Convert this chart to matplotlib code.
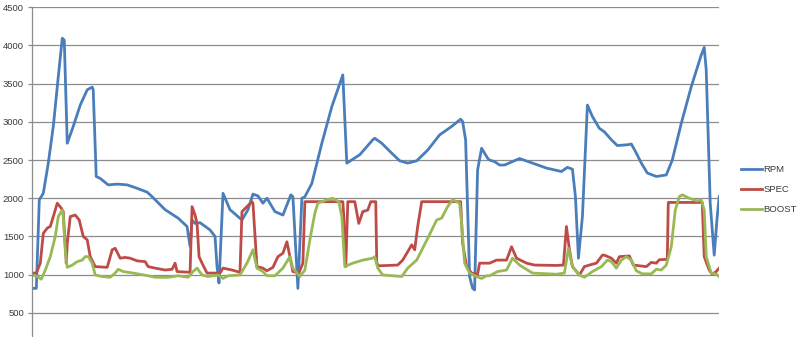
import matplotlib
matplotlib.use("Agg")
import matplotlib.pyplot as plt

plt.rcParams['font.family'] = ['Liberation Sans', 'DejaVu Sans']

# --- ДАННЫЕ: пары (отсчёт времени, значение) ---
rpm = [(0, 820), (4, 820), (7, 1980), (11, 2065), (16, 2460), (21, 2940), (26, 3590),
       (30, 4095), (32, 4070), (35, 2720), (41, 2940), (48, 3220), (55, 3420), (60, 3455),
       (61, 3420), (64, 2285), (68, 2260), (76, 2175), (85, 2185), (95, 2175), (105, 2130),
       (115, 2080), (120, 2020), (133, 1850), (146, 1740), (155, 1630), (158, 1370),
       (160, 1715), (163, 1670), (168, 1680), (178, 1585), (183, 1500), (185, 1105),
       (187, 890), (191, 2065), (198, 1850), (210, 1715), (216, 1850), (221, 2055),
       (226, 2030), (231, 1935), (235, 2000), (243, 1825), (251, 1780), (259, 2045),
       (261, 2020), (266, 820), (270, 2000), (273, 2020), (280, 2195), (290, 2720),
       (300, 3200), (311, 3615), (315, 2460), (328, 2570), (341, 2765), (343, 2785),
       (350, 2720), (360, 2590), (368, 2490), (376, 2460), (385, 2490), (396, 2630),
       (408, 2830), (420, 2940), (429, 3035), (431, 3005), (434, 2765), (438, 975),
       (441, 820), (443, 800), (446, 2370), (450, 2655), (456, 2525), (458, 2500),
       (463, 2480), (468, 2435), (473, 2435), (488, 2520), (501, 2460), (515, 2395),
       (530, 2350), (536, 2405), (541, 2380), (544, 2020), (547, 1215), (551, 1760),
       (556, 3220), (561, 3070), (568, 2915), (573, 2870), (580, 2765), (586, 2690),
       (596, 2700), (600, 2710), (605, 2590), (610, 2460), (616, 2330), (625, 2285),
       (635, 2305), (641, 2500), (650, 2980), (660, 3460), (670, 3875), (673, 3975),
       (675, 3680), (679, 1935), (683, 1255), (686, 1760), (688, 2020)]

spec = [(0, 1020), (4, 1020), (8, 1150), (11, 1540), (15, 1610), (18, 1630), (21, 1760),
        (25, 1935), (29, 1870), (31, 1825), (32, 1585), (34, 1150), (35, 1410), (38, 1760),
        (43, 1780), (47, 1715), (51, 1500), (55, 1455), (58, 1235), (63, 1105), (75, 1095),
        (80, 1325), (83, 1345), (88, 1215), (93, 1225), (98, 1215), (105, 1180), (113, 1170),
        (116, 1105), (123, 1085), (133, 1060), (140, 1070), (143, 1150), (145, 1040),
        (158, 1030), (160, 1890), (163, 1780), (165, 1670), (167, 1235), (170, 1150),
        (175, 1020), (188, 1020), (191, 1085), (200, 1060), (208, 1030), (210, 1825),
        (215, 1890), (220, 1955), (221, 1935), (225, 1105), (231, 1085), (235, 1050),
        (241, 1095), (246, 1235), (251, 1280), (255, 1430), (258, 1235), (261, 1040),
        (267, 1020), (271, 1150), (273, 1955), (311, 1955), (312, 1760), (314, 1105),
        (316, 1955), (323, 1955), (327, 1670), (331, 1825), (336, 1845), (339, 1955),
        (344, 1955), (345, 1150), (347, 1115), (366, 1125), (371, 1190), (376, 1300),
        (380, 1390), (383, 1325), (386, 1630), (390, 1955), (429, 1955), (431, 1410),
        (435, 1105), (440, 1020), (446, 1005), (448, 1150), (458, 1150), (465, 1190),
        (475, 1190), (480, 1365), (485, 1215), (495, 1150), (503, 1125), (525, 1120),
        (532, 1125), (535, 1630), (538, 1325), (541, 1105), (548, 995), (553, 1105),
        (558, 1125), (565, 1150), (571, 1255), (573, 1255), (580, 1215), (585, 1150),
        (588, 1235), (598, 1245), (602, 1125), (615, 1105), (620, 1160), (625, 1150),
        (628, 1195), (636, 1200), (637, 1945), (671, 1945), (673, 1235), (678, 1060),
        (681, 1005), (685, 1040), (688, 1085)]

boost = [(0, 995), (5, 975), (9, 940), (13, 1060), (18, 1235), (23, 1500), (26, 1760),
         (30, 1845), (31, 1760), (33, 1325), (35, 1095), (40, 1125), (45, 1170), (50, 1190),
         (53, 1235), (56, 1235), (60, 1150), (63, 995), (70, 975), (78, 965), (83, 1020),
         (86, 1070), (91, 1040), (101, 1020), (116, 985), (123, 965), (136, 965), (146, 985),
         (156, 965), (161, 1040), (165, 1085), (170, 995), (176, 975), (186, 995), (191, 950),
         (196, 985), (208, 995), (215, 1150), (221, 1325), (225, 1085), (231, 1040),
         (235, 985), (243, 985), (251, 1085), (258, 1235), (261, 1085), (268, 975),
         (273, 1060), (278, 1455), (283, 1805), (286, 1935), (295, 1980), (301, 2000),
         (307, 1955), (310, 1760), (313, 1105), (321, 1150), (331, 1190), (341, 1215),
         (343, 1235), (346, 1085), (351, 995), (370, 975), (376, 1085), (385, 1190),
         (396, 1475), (405, 1715), (410, 1740), (416, 1890), (421, 1980), (428, 1935),
         (430, 1670), (433, 1150), (438, 1020), (445, 975), (450, 950), (455, 985),
         (458, 985), (466, 1040), (475, 1060), (481, 1215), (488, 1125), (501, 1020),
         (525, 1005), (533, 1020), (537, 1345), (541, 1105), (548, 995), (553, 965),
         (561, 1040), (570, 1105), (576, 1190), (580, 1170), (585, 1085), (590, 1190),
         (595, 1235), (600, 1190), (605, 1050), (611, 1010), (620, 1010), (625, 1070),
         (630, 1060), (635, 1125), (640, 1365), (644, 1845), (648, 2020), (651, 2045),
         (658, 2000), (666, 1965), (670, 1980), (673, 1845), (675, 1235), (680, 1020),
         (685, 1005), (688, 975)]

series_names = ["RPM", "SPEC", "BOOST"]
y_ticks = [500, 1000, 1500, 2000, 2500, 3000, 3500, 4000, 4500]


def draw_chart():
    """Построение графика в стиле Excel."""
    fig = plt.figure(figsize=(8, 3.37), dpi=100)
    ax = fig.add_axes([0.0404, -0.0415, 0.8586, 1.0198])

    colors = ["#4A7EBB", "#BE4B48", "#98B954"]
    for pts, name, c in zip([rpm, spec, boost], series_names, colors):
        t, v = zip(*pts)
        ax.plot(t, v, color=c, linewidth=2.0, label=name, solid_joinstyle='round')

    ax.set_xlim(0, 688)
    ax.set_ylim(0, 4500)
    ax.set_yticks(y_ticks)
    ax.set_yticklabels([str(v) for v in y_ticks])
    ax.set_xticks([])
    ax.yaxis.grid(True, color='#8C8C8C', linewidth=0.9)
    ax.set_axisbelow(True)

    for side in ['top', 'right', 'bottom']:
        ax.spines[side].set_visible(False)
    ax.spines['left'].set_color('#8C8C8C')
    ax.spines['left'].set_linewidth(0.9)
    ax.tick_params(axis='y', length=3, width=0.9, color='#8C8C8C',
                   labelsize=6.8, labelcolor='#3A3A3A', pad=3)

    leg = fig.legend(loc='upper left', bbox_to_anchor=(0.915, 0.535),
                     frameon=False, fontsize=6.8, handlelength=2.3,
                     handletextpad=0.1, labelspacing=1.15)
    for txt in leg.get_texts():
        txt.set_color('#3A3A3A')

    fig.savefig("out.png", dpi=100)


if __name__ == "__main__":
    draw_chart()
